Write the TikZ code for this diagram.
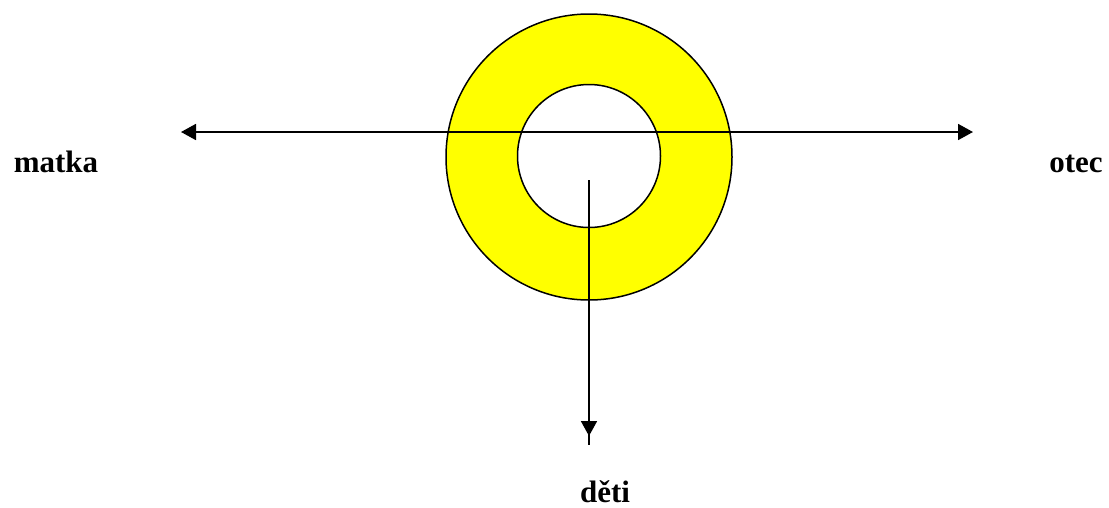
\documentclass[tikz,border=0pt]{standalone}
\usepackage{fontspec}
\setmainfont{Liberation Serif}
\usetikzlibrary{arrows.meta}
\definecolor{ringyellow}{RGB}{255,255,0}
\begin{document}
\begin{tikzpicture}[x=1pt,y=-1pt,
  lbl/.style={font=\fontsize{31}{34}\selectfont\bfseries, inner sep=0pt, anchor=base},
  conn/.style={line width=1.8pt},
  tip/.style={-{Triangle[length=15pt,width=16pt]}}]
\useasboundingbox (0,0) rectangle (1109,507);
\fill[ringyellow, even odd rule] (589,157) circle (143) (589,156) circle (71.5);
\draw[line width=1.5pt] (589,157) circle (143);
\draw[line width=1.5pt, fill=white] (589,156) circle (71.5);
\coordinate (L) at (181,132);
\coordinate (R) at (973,132);
\coordinate (T) at (589,180);
\coordinate (B) at (589,445);
\coordinate (Btip) at (589,436);
\draw[conn, {Triangle[length=15pt,width=16pt]}-{Triangle[length=15pt,width=16pt]}] (L) -- (R);
\draw[conn] (T) -- (B);
\draw[conn, tip] (T) -- (Btip);
\node[lbl] (matka) at (56,172) {matka};
\node[lbl] (otec) at (1076,172) {otec};
\node[lbl] (deti) at (605,502) {děti};
\end{tikzpicture}
\end{document}
